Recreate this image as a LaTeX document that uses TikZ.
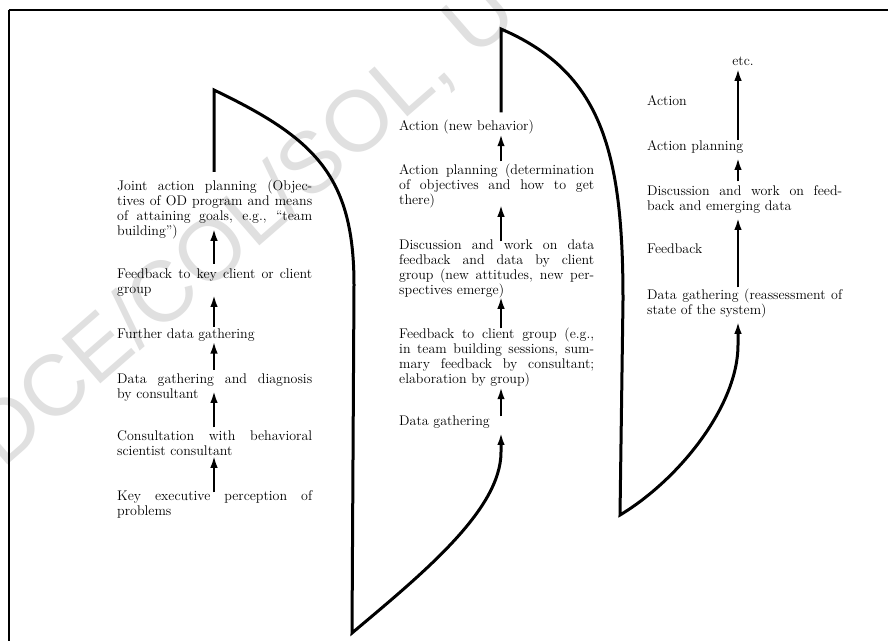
\documentclass[tikz,border=0pt]{standalone}
\usepackage{fontspec}
\newfontfamily\wmfont{Liberation Sans}
\usetikzlibrary{arrows.meta,calc}

\newlength\colw
\setlength\colw{195pt}
% one fully justified line of a step description (equal stretchable spaces)
\newcommand\jl[1]{\leavevmode\hbox to\colw{\spaceskip=.3333em plus 1fil minus .12em\xspaceskip=\spaceskip\relax #1}}
% type used for every step description
\newcommand\stepfont{\fontsize{14}{15}\selectfont\addfontfeatures{FakeBold=0.7}}

\begin{document}
\begin{tikzpicture}[x=1pt,y=-1pt,
  steptext/.style={anchor=base west, inner sep=0pt, text width=\colw, align=left,
    font=\stepfont},
  tiptext/.style={anchor=base, inner sep=0pt, font=\stepfont},
  headtip/.style={-{Latex[length=12.5pt,width=7.5pt]}},
  upar/.style={headtip, line width=2.6pt},
  spiral/.style={headtip, line width=3pt, line join=miter},
  framing/.style={line width=2pt},
  watermark/.style={anchor=base west, inner sep=0pt, rotate=41, text=black!12,
    font=\wmfont\fontsize{86}{86}\selectfont}]

\useasboundingbox (0,0) rectangle (888,641);
\fill[white] (0,0) rectangle (888,641);

% faint watermark lettering across the page
\begin{scope}
  \clip (0,0) rectangle (888,641);
  \node[watermark] (wm) at (2,470) {DCE/COL/SOL, U};
\end{scope}

% page frame (top and left rules)
\draw[framing] (8.5,10) -- (888,10);
\draw[framing] (8.5,10) -- (8.5,641);

% column axes for the upward arrows
\coordinate (colA) at (214,0);
\coordinate (colB) at (501,0);
\coordinate (colC) at (738,0);

% first cycle
\node[steptext] (jap) at (117,190) {\jl{Joint action planning (Objec-}\\
  \jl{tives of OD program and means}\\
  \jl{of attaining goals, e.g., ``team}\\
  building'')};
\node[steptext] (fkc) at (117,278) {\jl{Feedback to key client or client}\\ group};
\node[steptext] (fdg) at (117,338) {Further data gathering};
\node[steptext] (dgd) at (117,383) {\jl{Data gathering and diagnosis}\\ by consultant};
\node[steptext] (csc) at (117,440) {\jl{Consultation with behavioral}\\ scientist consultant};
\node[steptext] (kep) at (117,500) {\jl{Key executive perception of}\\ problems};

% second cycle
\node[steptext] (anb) at (399,130) {Action (new behavior)};
\node[steptext] (apd) at (399,174) {\jl{Action planning (determination}\\
  \jl{of objectives and how to get}\\ there)};
\node[steptext] (dwd) at (399,249) {\jl{Discussion and work on data}\\
  \jl{feedback and data by client}\\
  \jl{group (new attitudes, new per-}\\
  spectives emerge)};
\node[steptext] (fcg) at (399,338) {\jl{Feedback to client group (e.g.,}\\
  \jl{in team building sessions, sum-}\\
  \jl{mary feedback by consultant;}\\
  elaboration by group)};
\node[steptext] (mdg) at (399,425) {Data gathering};

% third cycle
\node[tiptext] (etc) at (743,65) {etc.};
\node[steptext] (rac) at (647,105) {Action};
\node[steptext] (rap) at (647,150) {Action planning};
\node[steptext] (rdw) at (647,195) {\jl{Discussion and work on feed-}\\ back and emerging data};
\node[steptext] (rfb) at (647,253) {Feedback};
\node[steptext] (rdg) at (647,299) {\jl{Data gathering (reassessment of}\\ state of the system)};

% steps within the first cycle
\draw[upar, shorten <=-2.5pt] (kep.north -| colA) -- (csc.south -| colA);
\draw[upar, shorten <=2.5pt, shorten >=-10.6pt] (csc.north -| colA) -- (dgd.south -| colA);
\draw[upar, shorten <=3.5pt] (dgd.north -| colA) -- (fdg.south -| colA);
\draw[upar, shorten <=1.5pt, shorten >=-1.6pt] (fdg.north -| colA) -- (fkc.south -| colA);
\draw[upar, shorten <=4.5pt, shorten >=-10.4pt] (fkc.north -| colA) -- (jap.south -| colA);

% steps within the second cycle
\draw[upar, shorten <=1.9pt] (apd.north -| colB) -- (anb.south -| colB);
\draw[upar, shorten <=-2.4pt, shorten >=-3.4pt] (dwd.north -| colB) -- (apd.south -| colB);
\draw[upar, shorten <=-1pt, shorten >=-1.4pt] (fcg.north -| colB) -- (dwd.south -| colB);
\draw[upar, shorten <=-1.4pt] (mdg.north -| colB) -- (fcg.south -| colB);

% steps within the third cycle
\draw[upar, shorten >=3pt] (rap.north -| colC) -- (etc.south -| colC);
\draw[upar, shorten <=3.6pt, shorten >=4.4pt] (rdw.north -| colC) -- (rap.south -| colC);
\draw[upar, shorten <=1pt, shorten >=4.4pt] (rdg.north -| colC) -- (rdw.south -| colC);

% loops carrying each cycle into the next
\draw[spiral] ([yshift=7.5pt]jap.north -| colA) -- (214,90)
  .. controls (314,138) and (354,175) .. (354,285) -- (352,633)
  .. controls (422,574) and (501,510) .. (501,452)
  -- ([yshift=-4.4pt]mdg.south -| colB);
\draw[spiral] ([yshift=7pt]anb.north -| colB) -- (501,29)
  .. controls (601,72) and (623,150) .. (623,300) -- (620,515)
  .. controls (680,479) and (738,405) .. (738,345)
  -- ([yshift=-3.6pt]rdg.south -| colC);
\end{tikzpicture}
\end{document}
